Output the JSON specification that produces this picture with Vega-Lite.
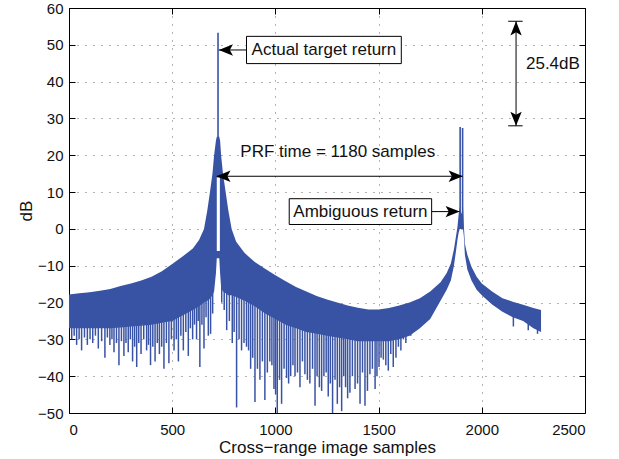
{
  "$schema": "https://vega.github.io/schema/vega-lite/v6.json",
  "width": 516,
  "height": 405,
  "autosize": {"type": "none"},
  "padding": {"left": 69, "top": 8, "right": 34, "bottom": 46},
  "background": "white",
  "config": {
    "view": {"stroke": "#000", "strokeWidth": 1},
    "font": "Liberation Sans",
    "axis": {
      "labelFont": "Liberation Sans",
      "labelFontSize": 15,
      "labelColor": "#111",
      "titleFont": "Liberation Sans",
      "titleFontSize": 17,
      "titleFontWeight": "normal",
      "titleColor": "#111",
      "tickColor": "#000",
      "tickSize": -6,
      "tickWidth": 1,
      "domain": false,
      "gridColor": "#000",
      "gridOpacity": 0.6,
      "gridDash": [1, 7],
      "gridWidth": 1
    },
    "text": {"font": "Liberation Sans"}
  },
  "datasets": {
    "env": [
      {"s": 0, "v": -17.8, "v2": -27}, {"s": 50, "v": -17.5, "v2": -27}, {"s": 100, "v": -17.2, "v2": -27},
      {"s": 150, "v": -16.8, "v2": -27}, {"s": 200, "v": -16.3, "v2": -27}, {"s": 250, "v": -15.5, "v2": -26.8},
      {"s": 300, "v": -14.8, "v2": -26.5}, {"s": 350, "v": -14, "v2": -26.3}, {"s": 400, "v": -13, "v2": -26},
      {"s": 450, "v": -11.5, "v2": -25.5}, {"s": 500, "v": -9.5, "v2": -25}, {"s": 550, "v": -7.5, "v2": -23.5},
      {"s": 600, "v": -5.3, "v2": -22}, {"s": 630, "v": -3, "v2": -21}, {"s": 654, "v": 0, "v2": -20},
      {"s": 670, "v": 5, "v2": -19.5}, {"s": 683, "v": 10, "v2": -19}, {"s": 695, "v": 15, "v2": -18},
      {"s": 703, "v": 20, "v2": -17}, {"s": 712, "v": 24, "v2": -12}, {"s": 716, "v": 25, "v2": -8},
      {"s": 728, "v": 25, "v2": -8}, {"s": 732, "v": 24, "v2": -12}, {"s": 737, "v": 20, "v2": -16},
      {"s": 746, "v": 15, "v2": -17}, {"s": 759, "v": 10, "v2": -17.5}, {"s": 772, "v": 5, "v2": -18},
      {"s": 788, "v": 0, "v2": -18}, {"s": 810, "v": -3.5, "v2": -18.5}, {"s": 850, "v": -6.5, "v2": -19.5},
      {"s": 900, "v": -9, "v2": -21}, {"s": 950, "v": -10.8, "v2": -23}, {"s": 1000, "v": -12.6, "v2": -24.5},
      {"s": 1050, "v": -14.2, "v2": -26}, {"s": 1100, "v": -15.8, "v2": -27}, {"s": 1150, "v": -17, "v2": -28},
      {"s": 1200, "v": -18.2, "v2": -28.5}, {"s": 1250, "v": -19.2, "v2": -29}, {"s": 1300, "v": -20, "v2": -29.5},
      {"s": 1350, "v": -20.8, "v2": -30}, {"s": 1400, "v": -21.4, "v2": -30.5}, {"s": 1450, "v": -21.9, "v2": -30.5},
      {"s": 1500, "v": -21.9, "v2": -30.5}, {"s": 1550, "v": -21.5, "v2": -30.5}, {"s": 1600, "v": -20.8, "v2": -30},
      {"s": 1650, "v": -20, "v2": -29}, {"s": 1700, "v": -18.8, "v2": -27}, {"s": 1750, "v": -17, "v2": -24.5},
      {"s": 1800, "v": -14.5, "v2": -19.5}, {"s": 1830, "v": -12, "v2": -16.5}, {"s": 1850, "v": -9.4, "v2": -14},
      {"s": 1865, "v": -5.5, "v2": -10}, {"s": 1875, "v": -2, "v2": -6}, {"s": 1882, "v": 0.5, "v2": -3},
      {"s": 1888, "v": 4, "v2": -1}, {"s": 1893, "v": 6, "v2": 0}, {"s": 1901, "v": 4, "v2": 0},
      {"s": 1909, "v": 6, "v2": 0}, {"s": 1913, "v": 1, "v2": -2}, {"s": 1918, "v": -4, "v2": -7},
      {"s": 1930, "v": -7, "v2": -11}, {"s": 1950, "v": -10.3, "v2": -14}, {"s": 1975, "v": -13, "v2": -16.5},
      {"s": 2000, "v": -14.8, "v2": -18}, {"s": 2050, "v": -17, "v2": -20.5}, {"s": 2100, "v": -18.8, "v2": -22.5},
      {"s": 2150, "v": -19.8, "v2": -24}, {"s": 2200, "v": -20.6, "v2": -25}, {"s": 2250, "v": -21.5, "v2": -27},
      {"s": 2287, "v": -22, "v2": -28}
    ],
    "spikes": [
      {"s": 13, "v": -30, "v2": -26}, {"s": 25, "v": -29, "v2": -26}, {"s": 37, "v": -31.5, "v2": -26},
      {"s": 49, "v": -30, "v2": -26}, {"s": 61, "v": -33, "v2": -26}, {"s": 75, "v": -29.5, "v2": -26},
      {"s": 89, "v": -31.5, "v2": -26}, {"s": 102, "v": -30, "v2": -26}, {"s": 115, "v": -31, "v2": -26},
      {"s": 128, "v": -29, "v2": -26}, {"s": 142, "v": -32.5, "v2": -26}, {"s": 158, "v": -30.5, "v2": -26},
      {"s": 174, "v": -35, "v2": -26}, {"s": 186, "v": -29.5, "v2": -26}, {"s": 198, "v": -31.5, "v2": -26},
      {"s": 208, "v": -30, "v2": -26}, {"s": 218, "v": -33.5, "v2": -26}, {"s": 230, "v": -31, "v2": -26},
      {"s": 242, "v": -37, "v2": -26}, {"s": 254, "v": -30.5, "v2": -26}, {"s": 266, "v": -34.5, "v2": -26},
      {"s": 276, "v": -31, "v2": -26}, {"s": 287, "v": -33.5, "v2": -25.5}, {"s": 297, "v": -30, "v2": -25.5},
      {"s": 308, "v": -36, "v2": -25.5}, {"s": 318, "v": -32, "v2": -25.5}, {"s": 328, "v": -37.5, "v2": -25.5},
      {"s": 338, "v": -31, "v2": -25.5}, {"s": 349, "v": -34, "v2": -25}, {"s": 362, "v": -30, "v2": -25},
      {"s": 376, "v": -33, "v2": -25}, {"s": 385, "v": -31.5, "v2": -25}, {"s": 395, "v": -37, "v2": -25},
      {"s": 406, "v": -32, "v2": -25}, {"s": 417, "v": -36, "v2": -24.5}, {"s": 428, "v": -31, "v2": -24.5},
      {"s": 438, "v": -34, "v2": -24.5}, {"s": 449, "v": -32, "v2": -24.5}, {"s": 460, "v": -38, "v2": -24},
      {"s": 472, "v": -31, "v2": -24}, {"s": 484, "v": -36.5, "v2": -24}, {"s": 496, "v": -30, "v2": -24},
      {"s": 509, "v": -33, "v2": -24}, {"s": 520, "v": -30, "v2": -23}, {"s": 530, "v": -36, "v2": -23},
      {"s": 542, "v": -29, "v2": -23}, {"s": 554, "v": -33, "v2": -22}, {"s": 566, "v": -28, "v2": -22},
      {"s": 578, "v": -34.5, "v2": -21}, {"s": 588, "v": -27, "v2": -21}, {"s": 599, "v": -30, "v2": -21},
      {"s": 608, "v": -26, "v2": -20}, {"s": 618, "v": -30, "v2": -20}, {"s": 626, "v": -25, "v2": -20},
      {"s": 634, "v": -37.5, "v2": -19}, {"s": 644, "v": -26, "v2": -19}, {"s": 654, "v": -32.5, "v2": -19},
      {"s": 664, "v": -24, "v2": -19}, {"s": 675, "v": -29, "v2": -18}, {"s": 686, "v": -28.5, "v2": -18},
      {"s": 696, "v": -23, "v2": -17}, {"s": 740, "v": -20, "v2": -15}, {"s": 752, "v": -22, "v2": -16},
      {"s": 764, "v": -27.5, "v2": -16}, {"s": 777, "v": -25, "v2": -17}, {"s": 791, "v": -31, "v2": -17},
      {"s": 800, "v": -28, "v2": -17}, {"s": 812, "v": -48.5, "v2": -17}, {"s": 824, "v": -30, "v2": -18},
      {"s": 836, "v": -33, "v2": -18}, {"s": 848, "v": -31, "v2": -18}, {"s": 860, "v": -32, "v2": -19},
      {"s": 870, "v": -33, "v2": -19}, {"s": 880, "v": -38, "v2": -19}, {"s": 890, "v": -35, "v2": -20},
      {"s": 901, "v": -47, "v2": -20}, {"s": 913, "v": -38, "v2": -21}, {"s": 925, "v": -41, "v2": -21},
      {"s": 937, "v": -36, "v2": -22}, {"s": 949, "v": -46.5, "v2": -22}, {"s": 961, "v": -39, "v2": -23},
      {"s": 973, "v": -36, "v2": -23}, {"s": 983, "v": -37, "v2": -23.5}, {"s": 993, "v": -43.5, "v2": -24},
      {"s": 1001, "v": -45, "v2": -24}, {"s": 1009, "v": -50, "v2": -24}, {"s": 1020, "v": -41, "v2": -24.5},
      {"s": 1030, "v": -47.5, "v2": -25}, {"s": 1042, "v": -38, "v2": -25}, {"s": 1054, "v": -40.5, "v2": -25.5},
      {"s": 1064, "v": -42, "v2": -25.5}, {"s": 1074, "v": -40, "v2": -26}, {"s": 1085, "v": -37, "v2": -26},
      {"s": 1095, "v": -40, "v2": -26.5}, {"s": 1107, "v": -39, "v2": -26.5}, {"s": 1119, "v": -43, "v2": -27},
      {"s": 1131, "v": -36, "v2": -27}, {"s": 1143, "v": -39.5, "v2": -27}, {"s": 1155, "v": -41, "v2": -27.5},
      {"s": 1167, "v": -42, "v2": -27.5}, {"s": 1180, "v": -38, "v2": -27.5}, {"s": 1192, "v": -48, "v2": -28},
      {"s": 1202, "v": -40, "v2": -28}, {"s": 1213, "v": -43, "v2": -28}, {"s": 1224, "v": -44, "v2": -28},
      {"s": 1235, "v": -40, "v2": -28.5}, {"s": 1246, "v": -39, "v2": -28.5}, {"s": 1256, "v": -45.5, "v2": -28.5},
      {"s": 1266, "v": -42, "v2": -28.5}, {"s": 1277, "v": -50, "v2": -29}, {"s": 1289, "v": -41, "v2": -29},
      {"s": 1300, "v": -47.5, "v2": -29}, {"s": 1311, "v": -43, "v2": -29}, {"s": 1321, "v": -49.5, "v2": -29},
      {"s": 1331, "v": -40, "v2": -29.5}, {"s": 1340, "v": -43, "v2": -29.5}, {"s": 1350, "v": -46, "v2": -29.5},
      {"s": 1361, "v": -44.5, "v2": -29.5}, {"s": 1373, "v": -40, "v2": -30}, {"s": 1386, "v": -43.5, "v2": -30},
      {"s": 1398, "v": -42, "v2": -30}, {"s": 1410, "v": -47.5, "v2": -30}, {"s": 1422, "v": -39, "v2": -30},
      {"s": 1434, "v": -48, "v2": -30}, {"s": 1446, "v": -44, "v2": -30}, {"s": 1458, "v": -39.5, "v2": -30},
      {"s": 1470, "v": -38, "v2": -30}, {"s": 1483, "v": -43.5, "v2": -30}, {"s": 1492, "v": -40, "v2": -30},
      {"s": 1502, "v": -37.5, "v2": -30}, {"s": 1512, "v": -35, "v2": -30}, {"s": 1523, "v": -35.5, "v2": -30},
      {"s": 1535, "v": -37, "v2": -30}, {"s": 1547, "v": -38.5, "v2": -30}, {"s": 1559, "v": -34, "v2": -30},
      {"s": 1571, "v": -37.5, "v2": -29.5}, {"s": 1584, "v": -35, "v2": -29.5}, {"s": 1596, "v": -32, "v2": -29},
      {"s": 1608, "v": -33, "v2": -29}, {"s": 1620, "v": -30, "v2": -28}, {"s": 1632, "v": -31, "v2": -28},
      {"s": 1644, "v": -29, "v2": -27}, {"s": 1656, "v": -29, "v2": -27}, {"s": 1668, "v": -27.5, "v2": -26},
      {"s": 1680, "v": -27.5, "v2": -26}, {"s": 1692, "v": -25.5, "v2": -25}, {"s": 1704, "v": -26, "v2": -25},
      {"s": 1717, "v": -24.5, "v2": -24}, {"s": 1729, "v": -25, "v2": -24},
      {"s": 2153, "v": -26.5, "v2": -23.5}, {"s": 2225, "v": -27.5, "v2": -25}, {"s": 2270, "v": -28.5, "v2": -26}
    ],
    "peaks": [
      {"s": 722, "v": 53.3, "v2": 14},
      {"s": 1895, "v": 27.7, "v2": 0},
      {"s": 1907, "v": 27.4, "v2": 0}
    ],
    "gaps": [
      {"s": 716, "s2": 731, "v": 14, "v2": -6}
    ],
    "boxes": [
      {"s": 860, "s2": 1610, "v": 52.3, "v2": 44.9},
      {"s": 1067, "s2": 1757, "v": 8.2, "v2": 1.2}
    ],
    "labels": [
      {"s": 1235, "v": 48.6, "label": "Actual target return"},
      {"s": 1412, "v": 4.7, "label": "Ambiguous return"},
      {"s": 1302, "v": 20.9, "label": "PRF time = 1180 samples"}
    ],
    "sidelabel": [
      {"s": 2214, "v": 44.9, "label": "25.4dB"}
    ],
    "lines": [
      {"s": 726, "s2": 860, "v": 48.6, "v2": 48.6},
      {"s": 716, "s2": 1906, "v": 14.3, "v2": 14.3},
      {"s": 1757, "s2": 1892, "v": 4.7, "v2": 4.7},
      {"s": 2166, "s2": 2166, "v": 28.0, "v2": 56.4},
      {"s": 2128, "s2": 2198, "v": 56.4, "v2": 56.4},
      {"s": 2128, "s2": 2198, "v": 28.0, "v2": 28.0}
    ],
    "heads": [
      {"s": 726, "v": 48.6, "ang": 0},
      {"s": 714, "v": 14.3, "ang": 0},
      {"s": 1908, "v": 14.3, "ang": 180},
      {"s": 1893, "v": 4.7, "ang": 180},
      {"s": 2166, "v": 56.4, "ang": 90},
      {"s": 2166, "v": 28.0, "ang": 270}
    ]
  },
  "encoding": {
    "x": {"field": "s", "type": "quantitative", "scale": {"domain": [0, 2500], "nice": false, "zero": false}, "axis": null},
    "y": {"field": "v", "type": "quantitative", "scale": {"domain": [-50, 60], "nice": false, "zero": false}, "axis": null}
  },
  "layer": [
    {
      "data": {"name": "env"},
      "mark": {"type": "area", "color": "#3953a4", "opacity": 1, "clip": true},
      "encoding": {
        "x": {"field": "s", "type": "quantitative", "scale": {"domain": [0, 2500], "nice": false, "zero": false},
          "axis": {"orient": "bottom", "values": [0, 500, 1000, 1500, 2000, 2500], "format": "d", "title": "Cross−range image samples",
            "grid": true, "labelPadding": 15, "titleX": 258, "titleY": 39.5, "titleBaseline": "alphabetic", "titleAnchor": null}},
        "y": {"field": "v", "type": "quantitative", "scale": {"domain": [-50, 60], "nice": false, "zero": false},
          "axis": {"orient": "left", "values": [-50, -40, -30, -20, -10, 0, 10, 20, 30, 40, 50, 60], "format": "d", "title": "dB",
            "grid": true, "labelPadding": 12, "titleX": -43, "titleY": 202.5, "titleBaseline": "middle", "titleAngle": -90}},
        "y2": {"field": "v2"}
      }
    },
    {
      "data": {"name": "spikes"},
      "mark": {"type": "rule", "color": "#3953a4", "strokeWidth": 1.5, "clip": true},
      "encoding": {"y2": {"field": "v2"}}
    },
    {
      "data": {"name": "gaps"},
      "mark": {"type": "rect", "color": "#ffffff", "opacity": 1},
      "encoding": {"x2": {"field": "s2"}, "y2": {"field": "v2"}}
    },
    {
      "data": {"name": "peaks"},
      "mark": {"type": "rule", "color": "#3953a4", "strokeWidth": 1.6, "clip": true},
      "encoding": {
        "x": {"field": "s", "type": "quantitative", "scale": {"domain": [0, 2500], "nice": false, "zero": false},
          "axis": {"orient": "top", "values": [0, 500, 1000, 1500, 2000, 2500], "labels": false, "title": null, "grid": false}},
        "y": {"field": "v", "type": "quantitative", "scale": {"domain": [-50, 60], "nice": false, "zero": false},
          "axis": {"orient": "right", "values": [-50, -40, -30, -20, -10, 0, 10, 20, 30, 40, 50, 60], "labels": false, "title": null, "grid": false}},
        "y2": {"field": "v2"}
      }
    },
    {
      "data": {"name": "lines"},
      "mark": {"type": "rule", "color": "#000", "strokeWidth": 1},
      "encoding": {"x2": {"field": "s2"}, "y2": {"field": "v2"}}
    },
    {
      "data": {"name": "boxes"},
      "mark": {"type": "rect", "fill": "#ffffff", "stroke": "#000", "strokeWidth": 1, "opacity": 1},
      "encoding": {"x2": {"field": "s2"}, "y2": {"field": "v2"}}
    },
    {
      "data": {"name": "labels"},
      "mark": {"type": "text", "fontSize": 17, "color": "#111", "align": "center", "baseline": "middle"},
      "encoding": {"text": {"field": "label"}}
    },
    {
      "data": {"name": "sidelabel"},
      "mark": {"type": "text", "fontSize": 17, "color": "#111", "align": "left", "baseline": "middle"},
      "encoding": {"text": {"field": "label"}}
    },
    {
      "data": {"name": "heads"},
      "mark": {"type": "point", "shape": "M0,0L2,-0.8L1.55,0L2,0.8Z", "filled": true, "color": "#000", "opacity": 1, "size": 200, "strokeWidth": 0},
      "encoding": {"angle": {"field": "ang", "type": "quantitative", "scale": null}}
    }
  ],
  "resolve": {"axis": {"x": "independent", "y": "independent"}}
}
